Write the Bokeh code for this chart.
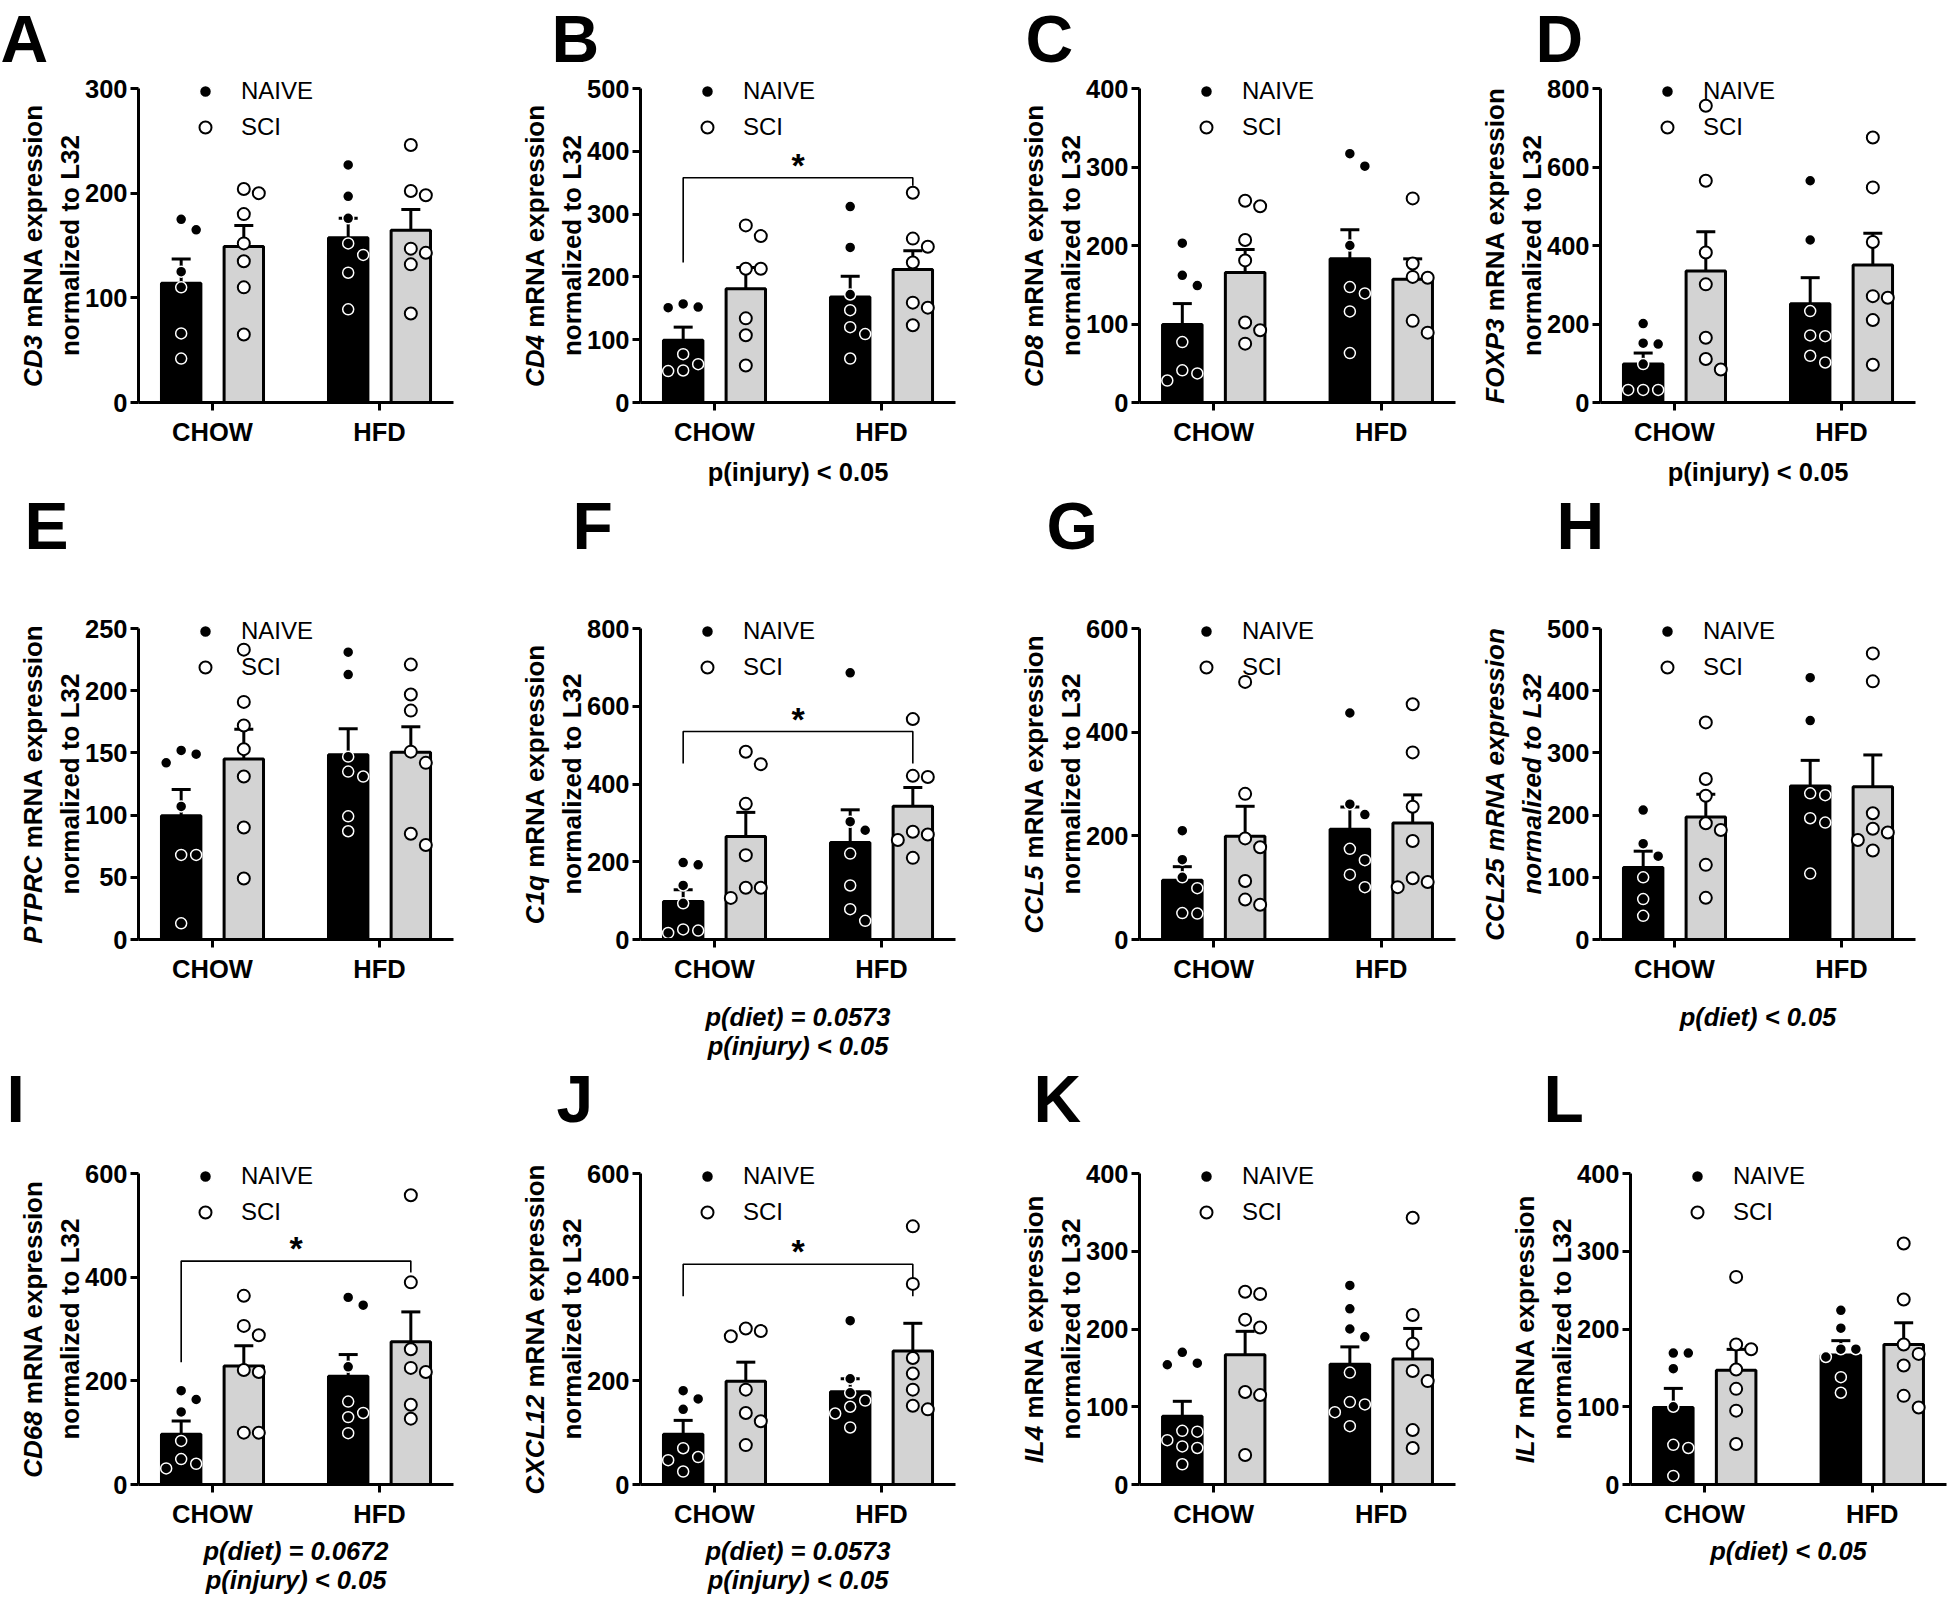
import math
from bokeh.plotting import figure
from bokeh.models import Range1d, FixedTicker, Label, Legend, LegendItem
from bokeh.layouts import row, column
from bokeh.embed import file_html
from bokeh.resources import INLINE

# ---------------- data ----------------
GROUPS = ["CHOW", "HFD"]
SERIES = ["NAIVE", "SCI"]
PANELS = ["A", "B", "C", "D", "E", "F", "G", "H", "I", "J", "K", "L"]
GENES = ["CD3", "CD4", "CD8", "FOXP3", "PTPRC", "C1q", "CCL5", "CCL25", "CD68", "CXCL12", "IL4", "IL7"]
Y_MAX = [300, 500, 400, 800, 250, 800, 600, 500, 600, 600, 400, 400]
Y_STEP = [100, 100, 100, 200, 50, 200, 200, 100, 200, 200, 100, 100]

# individual points per group: [CHOW, HFD]; bar means / SEM order: NAIVE-CHOW, SCI-CHOW, NAIVE-HFD, SCI-HFD
A_NAIVE = [[165, 175, 125, 110, 66, 42], [227, 197, 176, 152, 141, 124, 89]]
A_SCI = [[200, 204, 180, 152, 135, 110, 65], [246, 198, 202, 147, 143, 132, 85]]
A_MEAN = [114, 149, 157.5, 164.5]
A_SEM = [23, 20, 18.5, 20]

B_NAIVE = [[151, 157, 152, 77, 61, 50, 51], [312, 247, 172, 147, 109, 120, 70]]
B_SCI = [[265, 282, 213, 213, 134, 107, 59], [334, 248, 261, 223, 151, 159, 123]]
B_MEAN = [99, 181, 168, 211.6]
B_SEM = [21, 34, 33, 30]

C_NAIVE = [[203, 149, 162, 77, 41, 28, 37], [301, 317, 200, 139, 147, 116, 63]]
C_SCI = [[250, 257, 207, 181, 92, 102, 75], [260, 177, 159, 160, 104, 89]]
C_MEAN = [99.4, 165.5, 183, 157]
C_SEM = [26.6, 29.5, 37, 26]

D_NAIVE = [[201, 149, 151, 98, 32, 32, 32], [565, 414, 233, 169, 171, 119, 102]]
D_SCI = [[756, 565, 382, 301, 165, 111, 84], [675, 548, 409, 267, 271, 210, 96]]
D_MEAN = [98, 335, 251.6, 350.5]
D_SEM = [28, 100, 66.4, 81]

E_NAIVE = [[142, 152, 149, 107, 68, 68, 13], [231, 213, 147, 131, 135, 99, 87]]
E_SCI = [[233, 191, 172, 153, 131, 90, 49], [221, 197, 184, 151, 142, 85, 76]]
E_MEAN = [99.4, 145, 148.6, 150.6]
E_SEM = [21.2, 24, 20.8, 20.4]

F_NAIVE = [[192, 198, 139, 93, 17, 26, 23], [686, 281, 303, 221, 139, 78, 48]]
F_SCI = [[483, 451, 349, 217, 107, 133, 133], [567, 418, 421, 277, 256, 270, 210]]
F_MEAN = [97.8, 265, 249.6, 343]
F_SEM = [30.2, 62, 84, 48]

G_NAIVE = [[210, 154, 120, 99, 50, 51], [437, 241, 261, 153, 175, 125, 101]]
G_SCI = [[497, 281, 178, 195, 113, 67, 77], [454, 361, 256, 190, 118, 101, 111]]
G_MEAN = [114.5, 199, 212.6, 225]
G_SEM = [26, 58, 43, 54]

H_NAIVE = [[208, 134, 154, 100, 65, 38], [421, 352, 232, 235, 188, 195, 106]]
H_SCI = [[349, 258, 231, 176, 187, 120, 67], [460, 415, 203, 178, 172, 160, 143]]
H_MEAN = [115.6, 197, 246.6, 245.4]
H_SEM = [26.4, 36.5, 41.4, 51.3]

I_NAIVE = [[164, 181, 140, 84, 49, 31, 40], [346, 361, 227, 160, 130, 138, 99]]
I_SCI = [[364, 288, 306, 217, 221, 100, 100], [558, 390, 261, 217, 225, 154, 127]]
I_MEAN = [97, 228.8, 208.7, 275.6]
I_SEM = [25.4, 38.8, 42, 57.4]

J_NAIVE = [[181, 165, 145, 70, 53, 47, 25], [316, 204, 177, 162, 150, 137, 110]]
J_SCI = [[286, 301, 296, 183, 122, 138, 76], [498, 387, 244, 214, 183, 145, 152]]
J_MEAN = [97, 199.3, 179, 257.5]
J_SEM = [26.7, 36.7, 25, 53.5]

K_NAIVE = [[170, 154, 156, 69, 68, 57, 47, 49, 26], [256, 226, 190, 200, 144, 106, 93, 103, 75]]
K_SCI = [[245, 248, 202, 212, 115, 119, 38], [343, 218, 181, 133, 146, 70, 47]]
K_MEAN = [87.8, 167, 154.7, 161.4]
K_SEM = [19.2, 30, 22.3, 39.3]

L_NAIVE = [[169, 169, 149, 100, 47, 51, 11], [224, 201, 164, 174, 174, 138, 118]]
L_SCI = [[267, 174, 180, 148, 123, 95, 52], [310, 238, 180, 168, 153, 114, 99]]
L_MEAN = [99, 147, 166.7, 180]
L_SEM = [24.6, 26.8, 18.3, 28]

# significance brackets: NAIVE-CHOW vs SCI-HFD  (top, left leg end, right leg end)
BRACKETS = {"B": (358, 223, 345), "F": (535, 453, 453), "I": (431, 236, 409), "J": (425, 363, 363)}
STATS = {
    "B": ["p(injury) < 0.05"],
    "D": ["p(injury) < 0.05"],
    "F": ["p(diet) = 0.0573", "p(injury) < 0.05"],
    "H": ["p(diet) < 0.05"],
    "I": ["p(diet) = 0.0672", "p(injury) < 0.05"],
    "J": ["p(diet) = 0.0573", "p(injury) < 0.05"],
    "L": ["p(diet) < 0.05"],
}
STATS_ITALIC = {"F", "H", "I", "J", "L"}
YLABEL_ALL_ITALIC = {"H"}

PANEL_DATA = {
    "A": (A_NAIVE, A_SCI, A_MEAN, A_SEM), "B": (B_NAIVE, B_SCI, B_MEAN, B_SEM),
    "C": (C_NAIVE, C_SCI, C_MEAN, C_SEM), "D": (D_NAIVE, D_SCI, D_MEAN, D_SEM),
    "E": (E_NAIVE, E_SCI, E_MEAN, E_SEM), "F": (F_NAIVE, F_SCI, F_MEAN, F_SEM),
    "G": (G_NAIVE, G_SCI, G_MEAN, G_SEM), "H": (H_NAIVE, H_SCI, H_MEAN, H_SEM),
    "I": (I_NAIVE, I_SCI, I_MEAN, I_SEM), "J": (J_NAIVE, J_SCI, J_MEAN, J_SEM),
    "K": (K_NAIVE, K_SCI, K_MEAN, K_SEM), "L": (L_NAIVE, L_SCI, L_MEAN, L_SEM),
}

# ---------------- layout / style ----------------
FONT = "Liberation Sans"
GRAY = "#d3d3d3"
X0, X1 = -0.443, 1.443          # extent of the x axis (group 0 = CHOW, 1 = HFD)
OFF = 0.1875
BAR_W = 0.236

COL_X = [0, 500, 1000, 1470, 1950]            # figure boundaries (page px)
ROW_Y = [0, 486, 1060, 1608]
AXIS_LEFT = [[138, 640, 1139, 1600], [138, 640, 1139, 1600], [138, 640, 1139, 1630]]
AXIS_RIGHT = [[453, 955, 1455, 1915], [453, 955, 1455, 1915], [453, 955, 1455, 1946]]
AXIS_TOP = [88, 628, 1173]
AXIS_BOTTOM = [402, 939, 1484]
LETTER_X = {"A": 0, "B": 551, "C": 1025, "D": 1535, "E": 24, "F": 572, "G": 1046, "H": 1556,
            "I": 6, "J": 556, "K": 1033, "L": 1543}
LETTER_MID = [38, 525, 1098]
STAT_DY = [[69], [77, 106], [66, 95]]

AW = {' ': 278, 'A': 722, 'B': 722, 'C': 722, 'D': 722, 'E': 667, 'F': 611, 'G': 778, 'H': 722, 'I': 278,
      'J': 556, 'K': 722, 'L': 611, 'M': 833, 'N': 722, 'O': 778, 'P': 667, 'Q': 778, 'R': 722, 'S': 667,
      'T': 611, 'U': 722, 'V': 667, 'W': 944, 'X': 667, 'Y': 667, 'Z': 611,
      'a': 556, 'b': 611, 'c': 556, 'd': 611, 'e': 556, 'f': 333, 'g': 611, 'h': 611, 'i': 278, 'j': 278,
      'k': 556, 'l': 278, 'm': 889, 'n': 611, 'o': 611, 'p': 611, 'q': 611, 'r': 389, 's': 556, 't': 333,
      'u': 611, 'v': 556, 'w': 778, 'x': 556, 'y': 556, 'z': 500}


def text_w(s, size):
    return sum(AW.get(ch, 556) for ch in s) / 1000.0 * size


def swarm(vals, ppx, ppy, step=15.0, dist=13.0):
    order = sorted(range(len(vals)), key=lambda i: -vals[i])
    placed = []
    offs = [0.0] * len(vals)
    cands = [0, 1, -1, 2, -2, 3, -3]
    for i in order:
        y = vals[i] * ppy
        x = 0.0
        for c in cands:
            x = c * step
            if all((x - px) ** 2 + (y - py) ** 2 >= dist ** 2 for px, py in placed):
                break
        placed.append((x, y))
        offs[i] = x / ppx
    return offs


def make_panel(r, c):
    k = r * 4 + c
    letter = PANELS[k]
    gene = GENES[k]
    ymax, ystep = Y_MAX[k], Y_STEP[k]
    naive, sci, mean, sem = PANEL_DATA[letter]

    fx0, fy0 = COL_X[c], ROW_Y[r]
    W, Hh = COL_X[c + 1] - fx0, ROW_Y[r + 1] - fy0
    axl = AXIS_LEFT[r][c] - fx0
    axr = AXIS_RIGHT[r][c] - fx0
    axt = AXIS_TOP[r] - fy0
    axb = AXIS_BOTTOM[r] - fy0
    ppx = (axr - axl) / (X1 - X0)
    ppy = (axb - axt) / ymax

    # whole canvas is the frame; axes are pinned at fixed data locations
    xr = Range1d(X0 - axl / ppx, X0 + (W - axl) / ppx)
    yr = Range1d(-(Hh - axb) / ppy, ymax + axt / ppy)
    p = figure(width=W, height=Hh, x_range=xr, y_range=yr,
               output_backend="svg", toolbar_location=None, title=None,
               min_border=0, min_border_left=0, min_border_right=0,
               min_border_top=0, min_border_bottom=0)
    p.outline_line_color = None
    p.xgrid.visible = False
    p.ygrid.visible = False
    p.background_fill_color = "white"
    p.border_fill_color = "white"

    def sxy(px, py):  # page pixel -> frame screen units (origin bottom-left)
        return px - fx0, Hh - (py - fy0)

    for ax in (p.xaxis[0], p.yaxis[0]):
        ax.axis_line_width = 3
        ax.axis_line_color = "black"
        ax.major_tick_line_width = 3
        ax.major_tick_line_color = "black"
        ax.major_tick_out = 8
        ax.major_tick_in = 0
        ax.minor_tick_line_color = None
        ax.major_label_text_font = FONT
        ax.major_label_text_font_size = "25.5px"
        ax.major_label_text_font_style = "bold"
        ax.major_label_text_color = "black"
    p.xaxis.fixed_location = 0
    p.xaxis.bounds = (X0, X1)
    p.xaxis.ticker = FixedTicker(ticks=[0, 1])
    p.xaxis.major_label_overrides = {0: GROUPS[0], 1: GROUPS[1]}
    p.xaxis.major_label_standoff = 7
    p.yaxis.fixed_location = X0
    p.yaxis.bounds = (0, ymax)
    p.yaxis.ticker = FixedTicker(ticks=list(range(0, ymax + 1, ystep)))
    p.yaxis.major_label_standoff = 3

    xs = [0 - OFF, 0 + OFF, 1 - OFF, 1 + OFF]
    fills = ["black", GRAY, "black", GRAY]
    p.vbar(x=xs, top=mean, bottom=0, width=BAR_W, fill_color=fills, line_color="black", line_width=3)

    tops = [m + s for m, s in zip(mean, sem)]
    p.segment(x0=xs, y0=mean, x1=xs, y1=tops, line_color="black", line_width=3)
    cap = 9.5 / ppx
    p.segment(x0=[x - cap for x in xs], y0=tops, x1=[x + cap for x in xs], y1=tops,
              line_color="black", line_width=3)

    if letter in BRACKETS:
        btop, bl, br = BRACKETS[letter]
        xl, xrr = xs[0], xs[3]
        p.line(x=[xl, xl, xrr, xrr], y=[bl, btop, btop, br], line_color="black", line_width=1.6)
        p.add_layout(Label(x=(xl + xrr) / 2, y=btop, text="*", text_align="center",
                           text_baseline="middle", y_offset=13, text_font=FONT,
                           text_font_size="34px", text_font_style="bold", text_color="black"))

    nx, ny, sx, sy = [], [], [], []
    for gi in range(2):
        o = swarm(naive[gi], ppx, ppy)
        nx += [gi - OFF + v for v in o]
        ny += list(naive[gi])
        o = swarm(sci[gi], ppx, ppy)
        sx += [gi + OFF + v for v in o]
        sy += list(sci[gi])
    rn = p.scatter(nx, ny, size=11, fill_color="black", line_color="white", line_width=1.5)
    rs = p.scatter(sx, sy, size=12, fill_color="white", line_color="black", line_width=2)

    lx, ly = sxy(AXIS_LEFT[r][c] + 52, AXIS_TOP[r] + 54)
    legend = Legend(items=[LegendItem(label=SERIES[0], renderers=[rn]),
                           LegendItem(label=SERIES[1], renderers=[rs])],
                    location=(lx, ly), padding=0, margin=0, spacing=6,
                    glyph_width=30, glyph_height=30, label_standoff=21,
                    label_text_font=FONT, label_text_font_size="24px", label_text_color="black",
                    border_line_alpha=0, background_fill_alpha=0)
    p.add_layout(legend)

    # panel letter
    tx, ty = sxy(LETTER_X[letter], LETTER_MID[r])
    p.add_layout(Label(x=tx, y=ty, x_units="screen", y_units="screen",
                       text=letter, text_font=FONT, text_font_size="66px", text_font_style="bold",
                       text_baseline="middle", text_align="left", text_color="black"))

    # y axis label (two lines, gene name italic)
    FY = 26
    rest = "mRNA expression"
    gw, sw, rw = text_w(gene, FY), text_w(" ", FY), text_w(rest, FY)
    mid = (AXIS_TOP[r] + AXIS_BOTTOM[r]) / 2
    x1, ymid = sxy(AXIS_LEFT[r][c] - 106, mid)
    x2, _ = sxy(AXIS_LEFT[r][c] - 69, mid)
    start = ymid - (gw + sw + rw) / 2
    rest_style = "bold italic" if letter in YLABEL_ALL_ITALIC else "bold"
    common = dict(x_units="screen", y_units="screen", angle=math.pi / 2, text_baseline="middle",
                  text_font=FONT, text_font_size=f"{FY}px", text_color="black")
    p.add_layout(Label(x=x1, y=start, text=gene, text_align="left", text_font_style="bold italic", **common))
    p.add_layout(Label(x=x1, y=start + gw + sw, text=rest, text_align="left",
                       text_font_style=rest_style, **common))
    p.add_layout(Label(x=x2, y=ymid, text="normalized to L32", text_align="center",
                       text_font_style=rest_style, **common))

    # statistics text
    if letter in STATS:
        lines = STATS[letter]
        style = "bold italic" if letter in STATS_ITALIC else "bold"
        for line, dy in zip(lines, STAT_DY[r]):
            _, yy = sxy(0, AXIS_BOTTOM[r] + dy)
            p.add_layout(Label(x=0.5, y=yy, x_units="data", y_units="screen", text=line,
                               text_align="center", text_baseline="middle", text_font=FONT,
                               text_font_size="25.5px", text_font_style=style, text_color="black"))
    return p


rows = []
for r in range(3):
    rows.append(row(*[make_panel(r, c) for c in range(4)]))
layout = column(*rows)

open("out.html", "w").write(file_html(layout, INLINE))
